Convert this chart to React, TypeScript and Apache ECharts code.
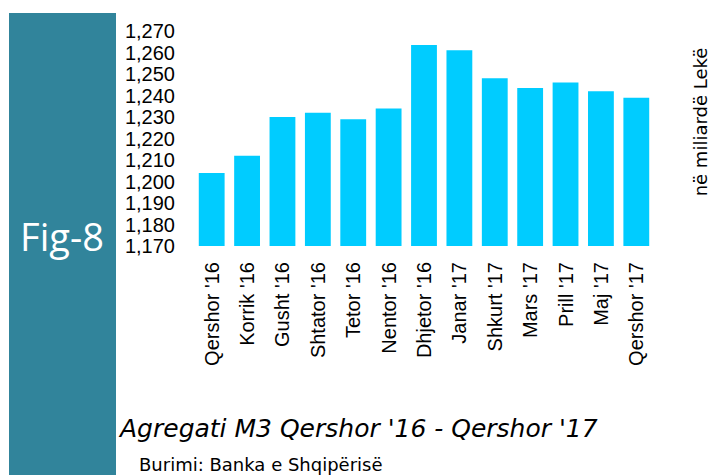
import React, { useEffect, useRef } from "react";
import * as echarts from "echarts";

const categories = [
  "Qershor '16", "Korrik '16", "Gusht '16", "Shtator '16", "Tetor '16", "Nentor '16",
  "Dhjetor '16", "Janar '17", "Shkurt '17", "Mars '17", "Prill '17", "Maj '17", "Qershor '17",
];
const m3Values = [1204, 1212, 1230, 1232, 1229, 1234, 1263.5, 1261, 1248, 1243.5, 1246, 1242, 1239];
const yMin = 1170;
const yMax = 1270;
const yStep = 10;
const figLabel = "Fig-8";
const titleText = "Agregati M3 Qershor '16 - Qershor '17";
const sourceText = "Burimi: Banka e Shqipërisë";
const unitText = "në miliardë Lekë";

export default function App() {
  const ref = useRef<HTMLDivElement>(null);
  useEffect(() => {
    if (!ref.current) return;
    const chart = echarts.init(ref.current, undefined, { renderer: "svg" });
    chart.setOption({
      animation: false,
      backgroundColor: "#ffffff",
      grid: { left: 194, right: 59, top: 31, bottom: 229, containLabel: false },
      xAxis: {
        type: "category",
        data: categories,
        axisLine: { show: false },
        axisTick: { show: false },
        axisLabel: {
          rotate: 90,
          interval: 0,
          margin: 16,
          fontSize: 20,
          color: "#000",
          fontFamily: "Liberation Sans, Arial, sans-serif",
        },
      },
      yAxis: {
        type: "value",
        min: yMin,
        max: yMax,
        interval: yStep,
        splitLine: { show: false },
        axisLine: { show: false },
        axisTick: { show: false },
        axisLabel: {
          margin: 19,
          fontSize: 20,
          color: "#000",
          fontFamily: "Liberation Sans, Arial, sans-serif",
          formatter: (v: number) => v.toLocaleString("en-US"),
        },
      },
      series: [
        {
          type: "bar",
          data: m3Values,
          barCategoryGap: "27%",
          itemStyle: { color: "#00CCFF" },
        },
      ],
      graphic: [
        { type: "rect", shape: { x: 9, y: 13, width: 107, height: 462 }, style: { fill: "#31849B" } },
        {
          type: "text",
          x: 62,
          y: 236,
          style: {
            text: figLabel,
            fill: "#ffffff",
            fontSize: 38,
            fontWeight: "normal",
            fontFamily: "Open Sans, sans-serif",
            align: "center",
            verticalAlign: "middle",
          },
        },
        {
          type: "text",
          x: 120,
          y: 428,
          style: {
            text: titleText,
            fill: "#000",
            fontSize: 25,
            fontStyle: "italic",
            fontFamily: "DejaVu Sans, sans-serif",
            align: "left",
            verticalAlign: "middle",
          },
        },
        {
          type: "text",
          x: 139,
          y: 464,
          style: {
            text: sourceText,
            fill: "#000",
            fontSize: 18,
            fontFamily: "DejaVu Sans, sans-serif",
            align: "left",
            verticalAlign: "middle",
          },
        },
        {
          type: "text",
          x: 700,
          y: 122,
          rotation: Math.PI / 2,
          style: {
            text: unitText,
            fill: "#000",
            fontSize: 18,
            fontFamily: "DejaVu Sans, sans-serif",
            align: "center",
            verticalAlign: "middle",
          },
        },
      ],
    });
    return () => chart.dispose();
  }, []);
  return (
    <div
      ref={ref}
      style={{ position: "fixed", left: 0, top: 0, width: 713, height: 475 }}
    />
  );
}
